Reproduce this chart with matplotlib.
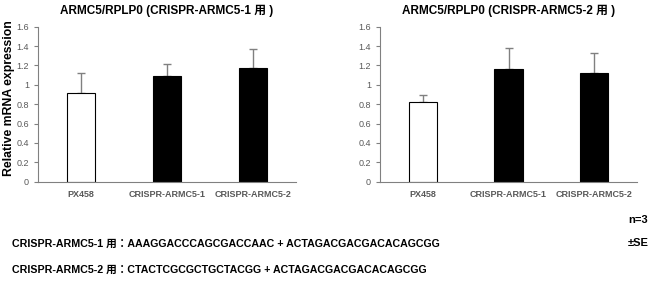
import matplotlib
matplotlib.use("Agg")
import matplotlib.pyplot as plt

plt.rcParams['font.family'] = ['Liberation Sans', 'Noto Sans CJK JP', 'DejaVu Sans']

# data
groups = ['PX458', 'CRISPR-ARMC5-1', 'CRISPR-ARMC5-2']
mean_1 = [0.92, 1.09, 1.17]
se_1 = [0.20, 0.13, 0.20]
mean_2 = [0.82, 1.16, 1.12]
se_2 = [0.08, 0.22, 0.21]
bar_colors = ['white', 'black', 'black']
titles = ['ARMC5/RPLP0 (CRISPR-ARMC5-1 用 )', 'ARMC5/RPLP0 (CRISPR-ARMC5-2 用 )']
yticks = [0, 0.2, 0.4, 0.6, 0.8, 1.0, 1.2, 1.4, 1.6]
ytick_labels = ['0', '0.2', '0.4', '0.6', '0.8', '1', '1.2', '1.4', '1.6']
notes = ['CRISPR-ARMC5-1 用：AAAGGACCCAGCGACCAAC + ACTAGACGACGACACAGCGG',
         'CRISPR-ARMC5-2 用：CTACTCGCGCTGCTACGG + ACTAGACGACGACACAGCGG']

fig = plt.figure(figsize=(6.68, 2.81), dpi=100)
ax1 = fig.add_axes([0.0569, 0.3534, 0.386, 0.5516])
ax2 = fig.add_axes([0.5689, 0.3534, 0.3847, 0.5516])

for ax, means, errs, title in [(ax1, mean_1, se_1, titles[0]), (ax2, mean_2, se_2, titles[1])]:
    x = range(len(groups))
    ax.errorbar(x, means, yerr=[[0] * len(errs), errs], fmt='none', ecolor='#808080',
                elinewidth=1, capsize=3, capthick=1, zorder=1)
    ax.bar(x, means, width=0.33, color=bar_colors, edgecolor='black', linewidth=0.8, zorder=2)
    ax.set_xlim(-0.5, 2.5)
    ax.set_ylim(0, 1.6)
    ax.set_yticks(yticks)
    ax.set_yticklabels(ytick_labels)
    ax.set_xticks(list(x))
    ax.set_xticklabels(groups, fontweight='bold')
    ax.tick_params(axis='x', length=0, labelsize=6.5, colors='#595959', pad=6)
    ax.tick_params(axis='y', length=3, width=0.8, labelsize=6.5, colors='#595959', pad=3.5)
    ax.tick_params(axis='y', color='#808080')
    for s in ['top', 'right']:
        ax.spines[s].set_visible(False)
    for s in ['left', 'bottom']:
        ax.spines[s].set_color('#808080')
        ax.spines[s].set_linewidth(0.8)
    ax.set_title(title, fontsize=8.5, fontweight='bold', pad=9)

# y label placed by hand so it is not clipped at the left edge
fig.text(9 / 668, 1 - 98 / 281, 'Relative mRNA expression', rotation=90,
         fontsize=8.8, fontweight='bold', ha='center', va='center')

fig.text(628 / 668, 1 - 220 / 281, 'n=3', fontsize=8, fontweight='bold', va='center')
fig.text(628 / 668, 1 - 243 / 281, '±SE', fontsize=8, fontweight='bold', va='center')
fig.text(12 / 668, 1 - 244 / 281, notes[0], fontsize=7.7, fontweight='bold', va='center')
fig.text(12 / 668, 1 - 270 / 281, notes[1], fontsize=7.7, fontweight='bold', va='center')

fig.savefig('out.png', dpi=100)
